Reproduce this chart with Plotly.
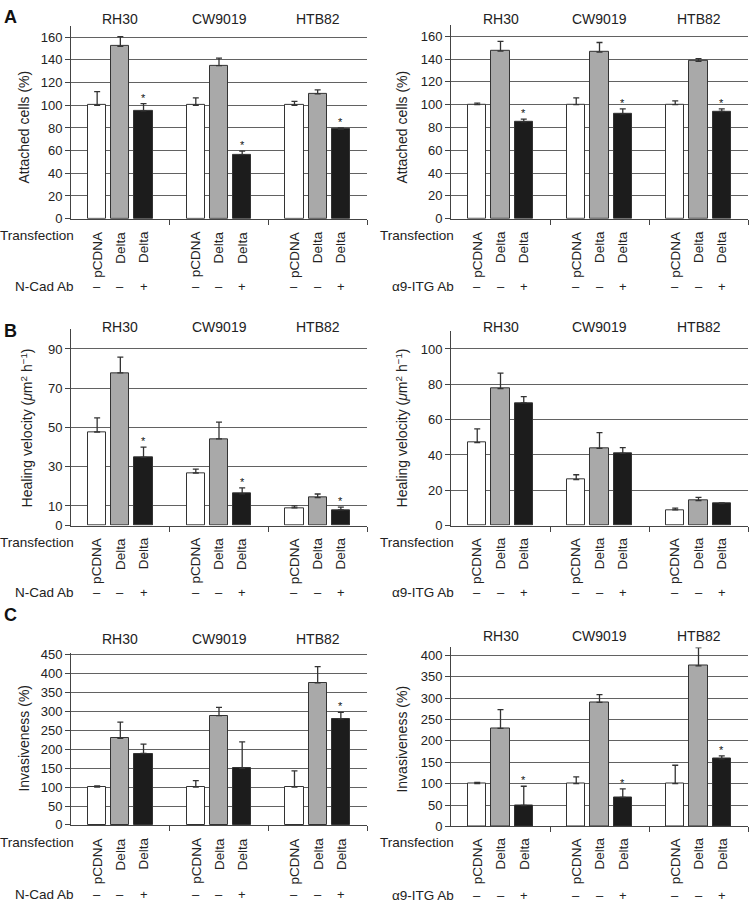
import plotly.graph_objects as go

W, H = 750, 911

# ---------------- data ----------------
groups = ["RH30", "CW9019", "HTB82"]
transfection = ["pCDNA", "Delta", "Delta"]
ab_signs = ["\u2013", "\u2013", "+"]
ab_label_left = "N-Cad Ab"
ab_label_right = "\u03b19-ITG Ab"

# Panel A - attached cells (%)
attach_ncad_pcdna = [100, 100, 100]
attach_ncad_pcdna_err = [12, 6.5, 3.5]
attach_ncad_delta = [152, 135, 110]
attach_ncad_delta_err = [8.5, 6.5, 3.5]
attach_ncad_ab = [95, 56.5, 79]
attach_ncad_ab_err = [6.5, 3, 1]
attach_ncad_sig = [True, True, True]

attach_itg_pcdna = [100, 100, 100]
attach_itg_pcdna_err = [1.3, 6, 3.3]
attach_itg_delta = [147, 146, 138]
attach_itg_delta_err = [8.5, 8.5, 2.3]
attach_itg_ab = [85, 92, 94]
attach_itg_ab_err = [2.3, 4.3, 2.3]
attach_itg_sig = [True, True, True]

# Panel B - healing velocity
heal_ncad_pcdna = [47.7, 26.8, 9.0]
heal_ncad_pcdna_err = [7.2, 2.0, 1.0]
heal_ncad_delta = [77.8, 44.2, 14.2]
heal_ncad_delta_err = [8.0, 8.5, 1.9]
heal_ncad_ab = [34.8, 16.2, 8.0]
heal_ncad_ab_err = [5.2, 3.0, 1.4]
heal_ncad_sig = [True, True, True]

heal_itg_pcdna = [47.0, 26.0, 8.9]
heal_itg_pcdna_err = [7.8, 2.8, 1.0]
heal_itg_delta = [77.5, 43.7, 14.1]
heal_itg_delta_err = [8.8, 8.9, 1.9]
heal_itg_ab = [69.5, 40.9, 12.4]
heal_itg_ab_err = [3.5, 3.2, 0.4]
heal_itg_sig = [False, False, False]

# Panel C - invasiveness (%)
inv_ncad_pcdna = [100, 100, 100]
inv_ncad_pcdna_err = [3, 17, 43]
inv_ncad_delta = [229, 289, 376]
inv_ncad_delta_err = [43, 22, 43]
inv_ncad_ab = [189, 150, 281]
inv_ncad_ab_err = [25, 70, 17]
inv_ncad_sig = [False, False, True]

inv_itg_pcdna = [100, 100, 100]
inv_itg_pcdna_err = [3, 16, 43]
inv_itg_delta = [229, 290, 375]
inv_itg_delta_err = [44, 18, 43]
inv_itg_ab = [49, 68, 158]
inv_itg_ab_err = [45, 20, 7]
inv_itg_sig = [True, True, True]

ytitle_attach = "Attached cells (%)"
ytitle_heal = "Healing velocity (<i>\u03bc</i>m<sup>2</sup> h<sup>\u22121</sup>)"
ytitle_inv = "Invasiveness (%)"

ticks_attach = [0, 20, 40, 60, 80, 100, 120, 140, 160]
ticks_heal_left = [0, 10, 30, 50, 70, 90]
ticks_heal_right = [0, 20, 40, 60, 80, 100]
ticks_inv_left = [0, 50, 100, 150, 200, 250, 300, 350, 400, 450]
ticks_inv_right = [0, 50, 100, 150, 200, 250, 300, 350, 400]

# ---------------- styles / layout ----------------
FONT = "Liberation Sans, Arial, Helvetica, sans-serif"
TXT = "#222222"
bar_colors = ["#ffffff", "#a9a9a9", "#1c1c1c"]
offsets = [-0.235, 0.0, 0.235]
bar_w = 0.185


def pyp(p):
    return 1 - p / H


def pxp(p):
    return p / W


panels = [
    dict(data=(attach_ncad_pcdna, attach_ncad_pcdna_err, attach_ncad_delta, attach_ncad_delta_err,
               attach_ncad_ab, attach_ncad_ab_err, attach_ncad_sig),
         xpx=(71, 367), ypx=(216, 20.2), yr=[0, 170], ticks=ticks_attach,
         title=ytitle_attach, title_xy=(24, 123.5), ab=ab_label_left,
         grp_y=13, rot_y=227, trans_y=233, sign_y=285, letter="A", letter_y=11),
    dict(data=(attach_itg_pcdna, attach_itg_pcdna_err, attach_itg_delta, attach_itg_delta_err,
               attach_itg_ab, attach_itg_ab_err, attach_itg_sig),
         xpx=(451, 748), ypx=(216, 19.1), yr=[0, 170], ticks=ticks_attach,
         title=ytitle_attach, title_xy=(402, 123.5), ab=ab_label_right,
         grp_y=13, rot_y=227, trans_y=233, sign_y=285, letter=None),
    dict(data=(heal_ncad_pcdna, heal_ncad_pcdna_err, heal_ncad_delta, heal_ncad_delta_err,
               heal_ncad_ab, heal_ncad_ab_err, heal_ncad_sig),
         xpx=(71, 367), ypx=(527.7, 328.4), yr=[0, 100], ticks=ticks_heal_left,
         title=ytitle_heal, title_xy=(27, 429), ab=ab_label_left,
         grp_y=326, rot_y=538, trans_y=545, sign_y=596, letter="B", letter_y=330),
    dict(data=(heal_itg_pcdna, heal_itg_pcdna_err, heal_itg_delta, heal_itg_delta_err,
               heal_itg_ab, heal_itg_ab_err, heal_itg_sig),
         xpx=(451, 748), ypx=(527.7, 330.4), yr=[0, 110], ticks=ticks_heal_right,
         title=ytitle_heal, title_xy=(402, 429), ab=ab_label_right,
         grp_y=326, rot_y=538, trans_y=545, sign_y=596, letter=None),
    dict(data=(inv_ncad_pcdna, inv_ncad_pcdna_err, inv_ncad_delta, inv_ncad_delta_err,
               inv_ncad_ab, inv_ncad_ab_err, inv_ncad_sig),
         xpx=(71, 367), ypx=(831.7, 657.1), yr=[0, 455], ticks=ticks_inv_left,
         title=ytitle_inv, title_xy=(24, 744), ab=ab_label_left,
         grp_y=643, rot_y=843, trans_y=850, sign_y=902, letter="C", letter_y=618),
    dict(data=(inv_itg_pcdna, inv_itg_pcdna_err, inv_itg_delta, inv_itg_delta_err,
               inv_itg_ab, inv_itg_ab_err, inv_itg_sig),
         xpx=(451, 748), ypx=(833.3, 651.5), yr=[0, 418], ticks=ticks_inv_right,
         title=ytitle_inv, title_xy=(402, 745), ab=ab_label_right,
         grp_y=640, rot_y=843, trans_y=850, sign_y=903, letter=None),
]

fig = go.Figure()
annotations = []
layout_axes = {}
group_pos = list(range(1, len(groups) + 1))

for k, p in enumerate(panels):
    n = k + 1
    xa = "x" if n == 1 else f"x{n}"
    ya = "y" if n == 1 else f"y{n}"
    xkey = "xaxis" if n == 1 else f"xaxis{n}"
    ykey = "yaxis" if n == 1 else f"yaxis{n}"
    v0, e0, v1, e1, v2, e2, sig = p["data"]
    series = [(v0, e0), (v1, e1), (v2, e2)]
    for i, (vals, errs) in enumerate(series):
        fig.add_trace(go.Bar(
            x=[g + offsets[i] for g in group_pos], y=vals, width=bar_w,
            marker=dict(color=bar_colors[i], line=dict(color="#333333", width=1)),
            error_y=dict(type="data", array=errs, arrayminus=[0] * len(errs), symmetric=False,
                         color="#333333", thickness=1.3, width=3),
            xaxis=xa, yaxis=ya, showlegend=False, hoverinfo="skip"))
    layout_axes[xkey] = dict(
        domain=[pxp(p["xpx"][0]), pxp(p["xpx"][1])], range=[0.5, len(groups) + 0.5],
        anchor=ya, tickvals=[g + 0.5 for g in group_pos], ticks="outside", ticklen=5,
        tickcolor="#444", showticklabels=False, showline=True, linecolor="#444",
        linewidth=1, showgrid=False, zeroline=False, fixedrange=True)
    layout_axes[ykey] = dict(
        domain=[pyp(p["ypx"][0]), pyp(p["ypx"][1])], range=p["yr"], anchor=xa,
        tickvals=p["ticks"], ticks="outside", ticklen=5, tickcolor="#444",
        tickfont=dict(size=13, color=TXT, family=FONT), showline=True, linecolor="#444",
        linewidth=1, showgrid=True, gridcolor="#626262", gridwidth=1, zeroline=False,
        fixedrange=True)

    # stars
    for j, g in enumerate(group_pos):
        if sig[j]:
            annotations.append(dict(x=g + offsets[2], y=v2[j] + e2[j], xref=xa, yref=ya,
                                    text="*", showarrow=False, yanchor="bottom", yshift=-2,
                                    font=dict(size=11, color="#111111", family=FONT)))
    # group names
    for j, g in enumerate(group_pos):
        annotations.append(dict(x=g, y=pyp(p["grp_y"]), xref=xa, yref="paper", text=groups[j],
                                showarrow=False, yanchor="middle",
                                font=dict(size=14, color=TXT, family=FONT)))
        for i in range(3):
            annotations.append(dict(x=g + offsets[i], y=pyp(p["rot_y"]), xref=xa, yref="paper",
                                    text=transfection[i], textangle=-90, showarrow=False,
                                    yanchor="top", xanchor="center",
                                    font=dict(size=13.5, color=TXT, family=FONT)))
            annotations.append(dict(x=g + offsets[i], y=pyp(p["sign_y"]), xref=xa, yref="paper",
                                    text=ab_signs[i], showarrow=False, yanchor="middle",
                                    font=dict(size=13, color=TXT, family=FONT)))
    # row labels
    xr = pxp(p["xpx"][0] + 5)
    annotations.append(dict(x=xr, y=pyp(p["trans_y"]), xref="paper", yref="paper",
                            text="Transfection", showarrow=False, xanchor="right", yanchor="middle",
                            font=dict(size=13.5, color=TXT, family=FONT)))
    annotations.append(dict(x=xr, y=pyp(p["sign_y"]), xref="paper", yref="paper",
                            text=p["ab"], showarrow=False, xanchor="right", yanchor="middle",
                            font=dict(size=13.5, color=TXT, family=FONT)))
    # y title
    annotations.append(dict(x=pxp(p["title_xy"][0]), y=pyp(p["title_xy"][1]), xref="paper",
                            yref="paper", text=p["title"], textangle=-90, showarrow=False,
                            xanchor="center", yanchor="middle",
                            font=dict(size=14, color=TXT, family=FONT)))
    if p["letter"]:
        annotations.append(dict(x=pxp(2), y=pyp(p["letter_y"]), xref="paper", yref="paper",
                                text="<b>%s</b>" % p["letter"], showarrow=False,
                                xanchor="left", yanchor="middle",
                                font=dict(size=18, color="#111", family=FONT)))

fig.update_layout(
    width=W, height=H, margin=dict(l=0, r=0, t=0, b=0),
    paper_bgcolor="white", plot_bgcolor="white",
    font=dict(family=FONT, color=TXT), bargap=0, annotations=annotations,
    **layout_axes)

fig.write_html("out.html", config={"displayModeBar": False},
               post_script="document.body.style.margin='0px';document.body.style.overflow='hidden';")
